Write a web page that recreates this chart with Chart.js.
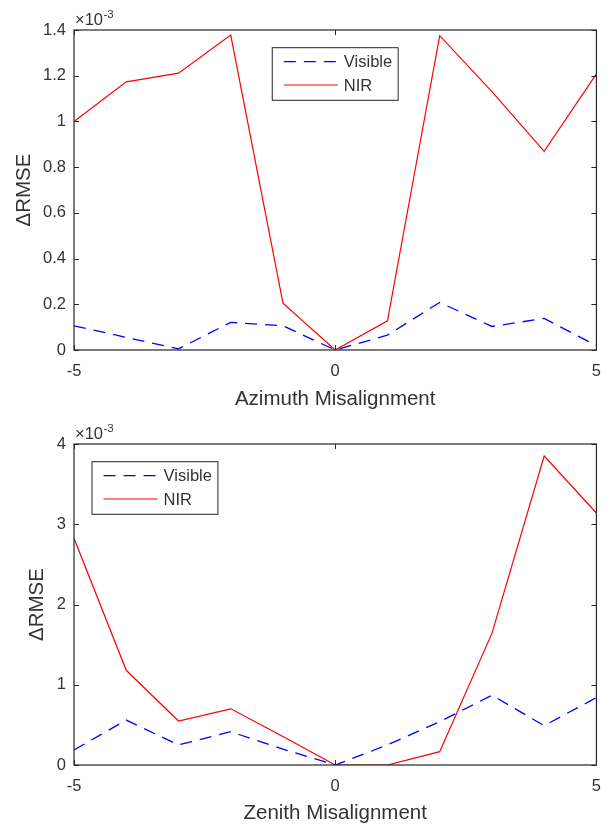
<!DOCTYPE html>
<html lang="en">
<head>
    <meta charset="UTF-8">
    <title>Misalignment RMSE</title>
    <script src="https://cdn.jsdelivr.net/npm/chart.js"></script>
    <style>
        body { margin: 0; background: #fff; }
        .plot { position: absolute; left: 0; width: 613px; height: 413px; }
    </style>
</head>
<body>
<div class="plot" style="top:0"><canvas id="azimuth-chart" width="613" height="413"></canvas></div>
<div class="plot" style="top:413px"><canvas id="zenith-chart" width="613" height="413"></canvas></div>

<script>
    // misalignment steps (x axis)
    const misalignment = [-5, -4, -3, -2, -1, 0, 1, 2, 3, 4, 5];

    // delta RMSE, in units of 1e-3
    const azimuthVisible = [0.106, 0.055, 0.005, 0.121, 0.106, 0, 0.065, 0.208, 0.103, 0.138, 0.019];
    const azimuthNIR = [1.00, 1.173, 1.211, 1.378, 0.205, 0, 0.128, 1.375, 1.13, 0.869, 1.208];
    const zenithVisible = [0.187, 0.56, 0.25, 0.415, 0.197, 0, 0.25, 0.54, 0.87, 0.49, 0.84];
    const zenithNIR = [2.825, 1.18, 0.548, 0.70, 0.355, 0, 0, 0.166, 1.64, 3.85, 3.14];

    const seriesNames = ['Visible', 'NIR'];
    const xTicks = [-5, 0, 5];

    const INK = '#262626';
    const FONT = "'Liberation Sans', Arial, Helvetica, sans-serif";
    Chart.defaults.font.family = FONT;
    Chart.defaults.color = INK;

    const toPoints = (ys) => ys.map((y, i) => ({ x: misalignment[i], y: y }));

    // box, inward ticks, x10^n label and a boxed legend
    const matlabFrame = {
        id: 'matlabFrame',
        afterDatasetsDraw(chart, args, opts) {
            const ctx = chart.ctx;
            const a = chart.chartArea;
            const xs = chart.scales.x, ys = chart.scales.y;
            const tick = 5;

            ctx.save();
            ctx.strokeStyle = INK;
            ctx.lineWidth = 1.2;
            ctx.strokeRect(a.left, a.top, a.right - a.left, a.bottom - a.top);

            ctx.lineWidth = 1;
            ctx.beginPath();
            xs.ticks.forEach(t => {
                const px = Math.round(xs.getPixelForValue(t.value)) + 0.5;
                ctx.moveTo(px, a.bottom); ctx.lineTo(px, a.bottom - tick);
                ctx.moveTo(px, a.top); ctx.lineTo(px, a.top + tick);
            });
            ys.ticks.forEach(t => {
                const py = Math.round(ys.getPixelForValue(t.value)) + 0.5;
                ctx.moveTo(a.left, py); ctx.lineTo(a.left + tick, py);
                ctx.moveTo(a.right, py); ctx.lineTo(a.right - tick, py);
            });
            ctx.stroke();

            // exponent label
            ctx.fillStyle = '#333';
            ctx.textBaseline = 'alphabetic';
            ctx.textAlign = 'left';
            ctx.font = '16.5px ' + FONT;
            const base = '\u00d710';
            ctx.fillText(base, a.left + 1, a.top - 5);
            const w = ctx.measureText(base).width;
            ctx.font = '11.5px ' + FONT;
            ctx.fillText(opts.exponent, a.left + 1.5 + w, a.top - 12);

            // legend
            ctx.font = '16.5px ' + FONT;
            const sets = chart.data.datasets;
            const textW = Math.max(...sets.map(d => ctx.measureText(d.label).width));
            const boxW = 11.6 + 54 + 6 + textW + 6;
            const boxH = 52.6;
            let bx = opts.legend === 'north'
                ? (a.left + a.right) / 2 - boxW / 2
                : a.left + 18;
            const by = a.top + 17.7;
            ctx.fillStyle = '#fff';
            ctx.fillRect(bx, by, boxW, boxH);
            ctx.strokeStyle = INK;
            ctx.lineWidth = 1;
            ctx.strokeRect(bx, by, boxW, boxH);

            sets.forEach((d, i) => {
                const ry = by + 14 + i * 23.3;
                ctx.strokeStyle = d.borderColor;
                ctx.lineWidth = d.borderWidth;
                ctx.setLineDash(d.borderDash || []);
                ctx.beginPath();
                ctx.moveTo(bx + 11.6, ry);
                ctx.lineTo(bx + 11.6 + 54, ry);
                ctx.stroke();
                ctx.setLineDash([]);
                ctx.fillStyle = '#333';
                ctx.textBaseline = 'middle';
                ctx.fillText(d.label, bx + 11.6 + 54 + 6, ry + 1);
            });
            ctx.restore();
        }
    };

    const makeChart = (canvasId, visible, nir, cfg) => {
        const ctx = document.getElementById(canvasId).getContext('2d');
        return new Chart(ctx, {
            type: 'line',
            data: {
                datasets: [
                    {
                        label: seriesNames[0],
                        data: toPoints(visible),
                        borderColor: '#0000ff',
                        borderWidth: 1.3,
                        borderDash: [12, 8],
                        pointRadius: 0,
                        tension: 0,
                        fill: false
                    },
                    {
                        label: seriesNames[1],
                        data: toPoints(nir),
                        borderColor: '#ff0000',
                        borderWidth: 1.2,
                        pointRadius: 0,
                        tension: 0,
                        fill: false
                    }
                ]
            },
            options: {
                responsive: false,
                animation: false,
                layout: { padding: { top: cfg.top, right: 6, left: 0, bottom: cfg.bottom } },
                plugins: {
                    legend: { display: false },
                    tooltip: { enabled: false },
                    matlabFrame: { exponent: '-3', legend: cfg.legend }
                },
                scales: {
                    x: {
                        type: 'linear',
                        min: -5,
                        max: 5,
                        afterBuildTicks: (scale) => { scale.ticks = xTicks.map(v => ({ value: v })); },
                        afterFit: (scale) => { scale.height = cfg.xHeight; },
                        grid: { display: false, drawTicks: false },
                        border: { display: false },
                        ticks: { padding: 12, color: '#333', font: { size: 16.5 } },
                        title: {
                            display: true,
                            text: cfg.xTitle,
                            color: '#333',
                            font: { size: 20.5 },
                            padding: { top: 0, bottom: 0 }
                        }
                    },
                    y: {
                        min: 0,
                        max: cfg.yMax,
                        afterBuildTicks: (scale) => { scale.ticks = cfg.yTicks.map(v => ({ value: v })); },
                        afterFit: (scale) => { scale.width = 74; },
                        grid: { display: false, drawTicks: false },
                        border: { display: false },
                        ticks: {
                            padding: 8,
                            color: '#333',
                            font: { size: 16.5 },
                            callback: (v) => String(Math.round(v * 10) / 10)
                        },
                        title: {
                            display: true,
                            text: '\u0394RMSE',
                            color: '#333',
                            font: { size: 20.5 },
                            padding: { top: cfg.yTitlePad, bottom: 0 }
                        }
                    }
                }
            },
            plugins: [matlabFrame]
        });
    };

    makeChart('azimuth-chart', azimuthVisible, azimuthNIR, {
        top: 30, bottom: 1, xHeight: 62, yMax: 1.4,
        yTicks: [0, 0.2, 0.4, 0.6, 0.8, 1, 1.2, 1.4],
        xTitle: 'Azimuth Misalignment', yTitlePad: 12, legend: 'north'
    });

    makeChart('zenith-chart', zenithVisible, zenithNIR, {
        top: 31, bottom: 0, xHeight: 61, yMax: 4,
        yTicks: [0, 1, 2, 3, 4],
        xTitle: 'Zenith Misalignment', yTitlePad: 25, legend: 'northwest'
    });
</script>
</body>
</html>
